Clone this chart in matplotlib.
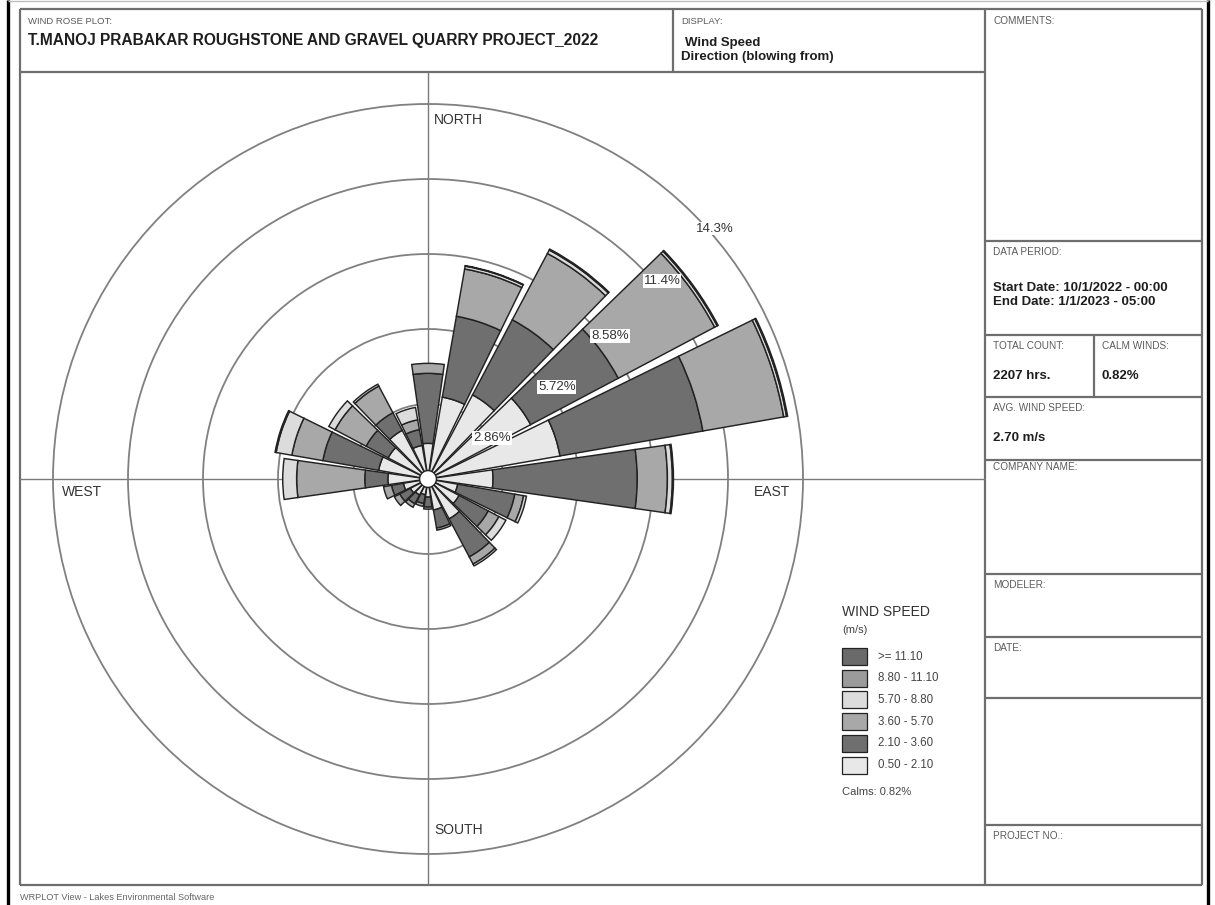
import matplotlib
matplotlib.use("Agg")
import matplotlib.pyplot as plt
import numpy as np
from matplotlib.patches import Rectangle

plt.rcParams["font.family"] = ["Liberation Sans", "DejaVu Sans"]

W, H = 1215, 905  # output size in pixels (dpi 100)

# wind direction, blowing from, degrees clockwise from north (20 sectors)
DIRECTIONS = np.arange(0, 360, 18)

# frequency (% of hours) per speed class, one value per direction
F_050_210 = [1.36, 3.17, 3.63, 4.43, 5.11, 2.48, 1.15, 1.34, 1.72, 1.20,
             0.69, 0.61, 0.69, 0.76, 0.95, 1.53, 1.91, 1.72, 2.10, 1.30]
F_210_360 = [2.67, 3.13, 3.24, 3.78, 5.53, 5.50, 2.21, 1.26, 1.64, 0.70,
             0.38, 0.34, 0.38, 0.46, 0.46, 0.88, 2.16, 0.95, 0.76, 0.61]
F_360_570 = [0.38, 1.83, 2.86, 4.16, 3.13, 1.15, 0.34, 0.46, 0.31, 0.08,
             0.08, 0.11, 0.15, 0.23, 0.31, 2.60, 1.20, 1.34, 1.15, 0.38]
F_570_880 = [0.00, 0.11, 0.15, 0.11, 0.11, 0.19, 0.11, 0.30, 0.08, 0.00,
             0.00, 0.00, 0.00, 0.00, 0.00, 0.53, 0.61, 0.27, 0.08, 0.48]
F_880_1110 = [0.00, 0.02, 0.04, 0.04, 0.04, 0.04, 0.00, 0.00, 0.00, 0.00,
              0.00, 0.00, 0.00, 0.00, 0.00, 0.00, 0.04, 0.00, 0.00, 0.00]
F_GE_1110 = [0.0] * 20

SPEED_LABELS = ["0.50 - 2.10", "2.10 - 3.60", "3.60 - 5.70",
                "5.70 - 8.80", "8.80 - 11.10", ">= 11.10"]
SPEED_COLORS = ["#e8e8e8", "#6f6f6f", "#a8a8a8", "#dcdcdc", "#9b9b9b", "#6a6a6a"]

RINGS = [2.86, 5.72, 8.58, 11.44, 14.3]
RING_LABELS = ["2.86%", "5.72%", "8.58%", "11.4%", "14.3%"]
CALMS = 0.82

INK = "#1e1e1e"
SMALL = "#5a5a5a"
FRAME = "#6e6e6e"
RING = "#808080"
EDGE = "#222222"

fig = plt.figure(figsize=(W / 100, H / 100), dpi=100, facecolor="white")

# page / frame layer in pixel coordinates
fr = fig.add_axes([0, 0, 1, 1], zorder=0)
fr.set_xlim(0, W)
fr.set_ylim(H, 0)
fr.axis("off")


def hline(y, x0, x1, c=FRAME, lw=1.6):
    fr.plot([x0, x1], [y, y], color=c, lw=lw, solid_capstyle="butt")


def vline(x, y0, y1, c=FRAME, lw=1.6):
    fr.plot([x, x], [y0, y1], color=c, lw=lw, solid_capstyle="butt")


def label(x, y, s, size=7.2, color=SMALL, bold=False, **kw):
    fr.text(x, y, s, fontsize=size, color=color, va="center",
            weight="bold" if bold else "normal", **kw)


# outer page border
vline(8, 0, H, c="black", lw=2.4)
vline(1208, 0, H, c="black", lw=2.4)
hline(1.5, 8, 1208, c="#bdbdbd", lw=1.0)

# inner frame and boxes
hline(9, 20, 1202)
hline(885, 20, 1202)
vline(20, 9, 885)
vline(1202, 9, 885)
hline(72, 20, 985)
vline(673, 9, 72)
vline(985, 9, 885)
for yy in [241, 335, 397, 460, 574, 637, 698, 825]:
    hline(yy, 985, 1202)
vline(1094, 335, 397)

# compass axes through the rose centre
hline(479, 20, 985, c="#7a7a7a", lw=1.0)
vline(428, 72, 885, c="#7a7a7a", lw=1.0)

# header
label(28, 21, "WIND ROSE PLOT:", size=6.8)
label(28, 41, "T.MANOJ PRABAKAR ROUGHSTONE AND GRAVEL QUARRY PROJECT_2022",
      size=11.2, color=INK, bold=True)
label(681, 21, "DISPLAY:", size=6.8)
label(685, 43, "Wind Speed", size=9.5, color=INK, bold=True)
label(681, 57, "Direction (blowing from)", size=9.5, color=INK, bold=True)

# right column
label(993, 21, "COMMENTS:")
label(993, 252, "DATA PERIOD:")
label(993, 288, "Start Date: 10/1/2022 - 00:00", size=9.5, color=INK, bold=True)
label(993, 302, "End Date: 1/1/2023 - 05:00", size=9.5, color=INK, bold=True)
label(993, 346, "TOTAL COUNT:")
label(993, 376, "2207 hrs.", size=9.5, color=INK, bold=True)
label(1102, 346, "CALM WINDS:")
label(1102, 376, f"{CALMS:.2f}%", size=9.5, color=INK, bold=True)
label(993, 408, "AVG. WIND SPEED:")
label(993, 438, "2.70 m/s", size=9.5, color=INK, bold=True)
label(993, 467, "COMPANY NAME:")
label(993, 585, "MODELER:")
label(993, 648, "DATE:")
label(993, 836, "PROJECT NO.:")

# footer
label(20, 897, "WRPLOT View - Lakes Environmental Software", size=6.6, color="#666666")

# compass words
label(434, 120, "NORTH", size=10, color="#333333")
label(434, 830, "SOUTH", size=10, color="#333333")
label(790, 492, "EAST", size=10, color="#333333", ha="right")
label(62, 492, "WEST", size=10, color="#333333")

# legend
label(842, 612, "WIND SPEED", size=10, color="#333333")
label(842, 630, "(m/s)", size=8, color="#444444")
for i, (lab, col) in enumerate(zip(SPEED_LABELS[::-1], SPEED_COLORS[::-1])):
    y0 = 648 + i * 21.7
    fr.add_patch(Rectangle((842, y0), 25, 17, facecolor=col, edgecolor=EDGE, lw=0.9))
    label(878, y0 + 8.5, lab, size=8.3, color="#444444")
label(842, 792, f"Calms: {CALMS:.2f}%", size=8, color="#444444")

# wind rose: centre (428, 479) px, outer ring radius 375 px
cx, cy, R = 428, 479, 375
ax = fig.add_axes([(cx - R) / W, (H - cy - R) / H, 2 * R / W, 2 * R / H],
                  projection="polar", zorder=2)
ax.patch.set_alpha(0)
ax.set_theta_zero_location("N")
ax.set_theta_direction(-1)
ax.set_ylim(0, RINGS[-1])
ax.set_xticks([])
ax.set_yticks(RINGS[:-1])
ax.set_yticklabels([])
ax.yaxis.grid(True, color=RING, lw=1.3)
ax.spines["polar"].set_color(RING)
ax.spines["polar"].set_linewidth(1.3)
ax.set_axisbelow(True)

theta = np.deg2rad(DIRECTIONS)
width = np.deg2rad(16.2)
bottom = np.zeros(len(DIRECTIONS))
series = [F_050_210, F_210_360, F_360_570, F_570_880, F_880_1110, F_GE_1110]
for vals, col in zip(series, SPEED_COLORS):
    vals = np.asarray(vals, dtype=float)
    m = vals > 0
    ax.bar(theta[m], vals[m], width=width, bottom=bottom[m], color=col,
           edgecolor=EDGE, linewidth=1.05, zorder=3)
    bottom += vals

# calm circle
t = np.linspace(0, 2 * np.pi, 120)
ax.fill(t, np.full_like(t, 0.32), facecolor="white", edgecolor=EDGE, lw=1.0, zorder=4)

# ring labels
LABEL_R = [2.90, 6.03, 8.83, 11.69, 14.52]
LABEL_ANG = [57.4, 54.5, 51.8, 49.8, 48.9]
for r, a, s in zip(LABEL_R, LABEL_ANG, RING_LABELS):
    ax.text(np.deg2rad(a), r, s, ha="center", va="center", fontsize=9.5,
            color="#333333", zorder=6,
            bbox=dict(facecolor="white", edgecolor="none", pad=0.6))

fig.savefig("out.png", dpi=100, facecolor="white")
